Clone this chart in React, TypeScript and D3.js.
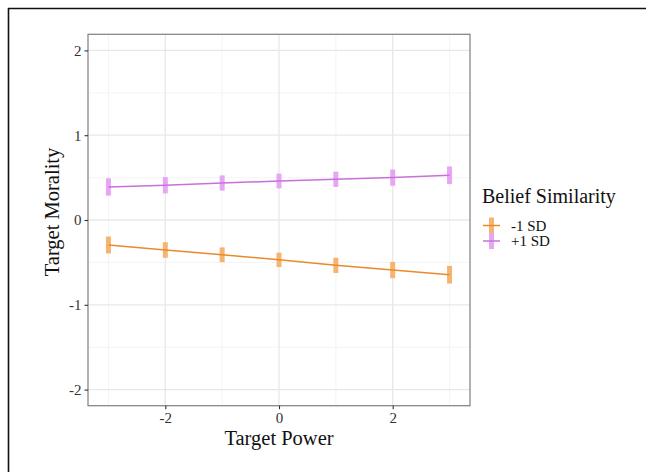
import React, { useEffect, useRef } from "react";
import * as d3 from "d3";

const width = 646;
const height = 472;
const panel = { left: 88, right: 470, top: 34.3, bottom: 405.7 };

// Target Power values and fitted Target Morality per group
const powerValues = [-3, -2, -1, 0, 1, 2, 3];
const lowSdFit = [-0.295, -0.354, -0.41, -0.47, -0.535, -0.59, -0.645];
const lowSdCi = [0.1, 0.092, 0.087, 0.085, 0.09, 0.096, 0.104];
const highSdFit = [0.39, 0.41, 0.436, 0.46, 0.48, 0.5, 0.527];
const highSdCi = [0.102, 0.096, 0.09, 0.087, 0.09, 0.096, 0.104];
const groupLabels = ["-1 SD", "+1 SD"];
const xTicks = [-2, 0, 2];
const xMinor = [-3, -1, 1, 3];
const yTicks = [-2, -1, 0, 1, 2];
const yMinor = [-1.5, -0.5, 0.5, 1.5];

const lineColors = ["#E98A2B", "#C970DC"];
const barColors = ["#F6B470", "#E7A6F3"];
const font = "Liberation Serif, serif";

export default function App() {
  const ref = useRef<SVGSVGElement>(null);

  useEffect(() => {
    const svg = d3.select(ref.current);
    svg.selectAll("*").remove();

    const x = d3.scaleLinear().domain([-3.36, 3.36]).range([panel.left, panel.right]);
    const y = d3.scaleLinear().domain([-2.19, 2.19]).range([panel.bottom, panel.top]);
    const fmt = (d: d3.NumberValue) => String(d); // plain hyphen minus like the original

    // outer frame (only top/left visible)
    svg.append("line").attr("x1", 8).attr("x2", width).attr("y1", 8.5).attr("y2", 8.5)
      .attr("stroke", "#111").attr("stroke-width", 1.6);
    svg.append("line").attr("x1", 8.5).attr("x2", 8.5).attr("y1", 8).attr("y2", height)
      .attr("stroke", "#111").attr("stroke-width", 1.6);

    const grid = svg.append("g");
    grid.selectAll(".xm").data(xMinor).join("line")
      .attr("x1", d => x(d)).attr("x2", d => x(d))
      .attr("y1", panel.top).attr("y2", panel.bottom)
      .attr("stroke", "#F1F1F1").attr("stroke-width", 0.8);
    grid.selectAll(".ym").data(yMinor).join("line")
      .attr("y1", d => y(d)).attr("y2", d => y(d))
      .attr("x1", panel.left).attr("x2", panel.right)
      .attr("stroke", "#F1F1F1").attr("stroke-width", 0.8);
    grid.selectAll(".xM").data(xTicks).join("line")
      .attr("x1", d => x(d)).attr("x2", d => x(d))
      .attr("y1", panel.top).attr("y2", panel.bottom)
      .attr("stroke", "#E8E8E8").attr("stroke-width", 1.3);
    grid.selectAll(".yM").data(yTicks).join("line")
      .attr("y1", d => y(d)).attr("y2", d => y(d))
      .attr("x1", panel.left).attr("x2", panel.right)
      .attr("stroke", "#E8E8E8").attr("stroke-width", 1.3);

    const groups = [
      { fit: lowSdFit, ci: lowSdCi },
      { fit: highSdFit, ci: highSdCi },
    ];

    const line = d3.line<number>()
      .x((_, i) => x(powerValues[i]))
      .y(d => y(d));

    groups.forEach((g, gi) => {
      svg.append("g")
        .selectAll("line")
        .data(powerValues)
        .join("line")
        .attr("x1", d => x(d)).attr("x2", d => x(d))
        .attr("y1", (_, i) => y(g.fit[i] - g.ci[i]))
        .attr("y2", (_, i) => y(g.fit[i] + g.ci[i]))
        .attr("stroke", barColors[gi])
        .attr("stroke-width", 5);
      svg.append("path")
        .datum(g.fit)
        .attr("d", line)
        .attr("fill", "none")
        .attr("stroke", lineColors[gi])
        .attr("stroke-width", 1.5);
    });

    // panel border
    svg.append("rect")
      .attr("x", panel.left).attr("y", panel.top)
      .attr("width", panel.right - panel.left).attr("height", panel.bottom - panel.top)
      .attr("fill", "none").attr("stroke", "#888").attr("stroke-width", 1.3);

    const xAxis = svg.append("g")
      .attr("transform", `translate(0,${panel.bottom})`)
      .call(d3.axisBottom(x).tickValues(xTicks).tickSize(3.5).tickPadding(3).tickFormat(fmt))
      .call(g => g.select(".domain").remove())
      .attr("font-family", font).attr("font-size", 15);
    xAxis.selectAll(".tick line").attr("stroke", "#333").attr("stroke-width", 1.1);
    xAxis.selectAll(".tick text").attr("fill", "#333").attr("dy", "0.71em");

    const yAxis = svg.append("g")
      .attr("transform", `translate(${panel.left},0)`)
      .call(d3.axisLeft(y).tickValues(yTicks).tickSize(3.5).tickPadding(3).tickFormat(fmt))
      .call(g => g.select(".domain").remove())
      .attr("font-family", font).attr("font-size", 15);
    yAxis.selectAll(".tick line").attr("stroke", "#333").attr("stroke-width", 1.1);
    yAxis.selectAll(".tick text").attr("fill", "#333");

    svg.append("text")
      .attr("x", (panel.left + panel.right) / 2).attr("y", 445)
      .attr("text-anchor", "middle").attr("font-family", font).attr("font-size", 20.5)
      .attr("fill", "#111").text("Target Power");

    svg.append("text")
      .attr("transform", `translate(59,212) rotate(-90)`)
      .attr("text-anchor", "middle").attr("font-family", font).attr("font-size", 20.5)
      .attr("fill", "#111").text("Target Morality");

    // legend
    const legend = svg.append("g").attr("font-family", font);
    legend.append("text")
      .attr("x", 482).attr("y", 202.5)
      .attr("font-size", 20).attr("fill", "#111")
      .text("Belief Similarity");
    groupLabels.forEach((label, i) => {
      const cy = 225.5 + i * 15.5;
      legend.append("line")
        .attr("x1", 491.5).attr("x2", 491.5).attr("y1", cy - 8).attr("y2", cy + 8)
        .attr("stroke", barColors[i]).attr("stroke-width", 5);
      legend.append("line")
        .attr("x1", 483).attr("x2", 500).attr("y1", cy).attr("y2", cy)
        .attr("stroke", lineColors[i]).attr("stroke-width", 1.5);
      legend.append("text")
        .attr("x", 511).attr("y", cy + 5)
        .attr("font-size", 15).attr("fill", "#111")
        .text(label);
    });
  }, []);

  return (
    <div style={{ position: "fixed", left: 0, top: 0, background: "#fff" }}>
      <svg ref={ref} width={width} height={height} style={{ display: "block" }} />
    </div>
  );
}
